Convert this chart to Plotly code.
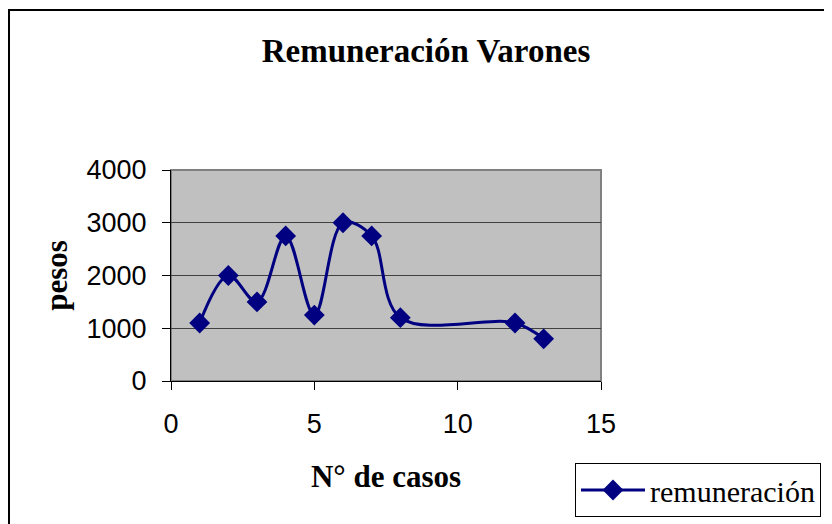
import plotly.graph_objects as go

casos = [1, 2, 3, 4, 5, 6, 7, 8, 12, 13]
remuneracion = [1100, 2000, 1500, 2750, 1250, 3000, 2750, 1200, 1100, 800]
x_ticks = [0, 5, 10, 15]
y_ticks = [0, 1000, 2000, 3000, 4000]

# page is offset by the 8px default body margin
OFF = 8
W, H = 832, 524
PL, PR, PT, PB = 171, 601, 170, 381  # plot area in page pixels
L = PL - OFF
T = PT - OFF
R = W - (PR - OFF)
B = H - (PB - OFF)
pw = PR - PL
ph = PB - PT

def px_x(p):
    return (p - PL) / pw

def px_y(p):
    return (PB - p) / ph

fig = go.Figure()
fig.add_trace(go.Scatter(
    x=casos, y=remuneracion, mode="lines+markers", name="remuneración",
    line=dict(color="#000080", width=3, shape="spline", smoothing=1.0),
    marker=dict(symbol="diamond", size=16, color="#000080"),
))

fig.update_layout(
    width=W, height=H,
    margin=dict(l=L, r=R, t=T, b=B, pad=0),
    paper_bgcolor="white", plot_bgcolor="#C0C0C0",
    showlegend=True,
    title=dict(text="<b>Remuneración Varones</b>", x=(426 - OFF) / W, xanchor="center",
               y=1 - (50 - OFF) / H, yanchor="middle",
               font=dict(family="Liberation Serif", size=33, color="black")),
    xaxis=dict(range=[0, 15], tickvals=x_ticks, ticks="outside", ticklen=8, tickcolor="black",
               ticklabelstandoff=11,
               showgrid=False, zeroline=False, showline=True, linecolor="black", linewidth=1,
               tickfont=dict(family="Liberation Sans", size=27, color="black"),
               title=dict(text="<b>N° de casos</b>", standoff=26,
                          font=dict(family="Liberation Serif", size=31, color="black"))),
    yaxis=dict(range=[0, 4000], tickvals=y_ticks, ticks="outside", ticklen=8, tickcolor="black",
               ticklabelstandoff=10,
               showgrid=True, gridcolor="#404040", gridwidth=1, zeroline=False,
               showline=True, linecolor="black", linewidth=1,
               tickfont=dict(family="Liberation Sans", size=27, color="black"),
               title=dict(text="<b>pesos</b>", standoff=9,
                          font=dict(family="Liberation Serif", size=31, color="black"))),
    legend=dict(x=px_x(575), y=px_y(463), xanchor="left", yanchor="top",
                bgcolor="white", bordercolor="black", borderwidth=1,
                font=dict(family="Liberation Serif", size=30, color="black"),
                itemwidth=64),
    shapes=[
        dict(type="rect", xref="paper", yref="paper", x0=0, x1=1, y0=0, y1=1,
             line=dict(color="#808080", width=2), layer="below"),
        dict(type="rect", xref="paper", yref="paper", x0=px_x(9), x1=px_x(845),
             y0=px_y(540), y1=px_y(10), line=dict(color="black", width=2), layer="below"),
    ],
)

fig.write_html("out.html")
